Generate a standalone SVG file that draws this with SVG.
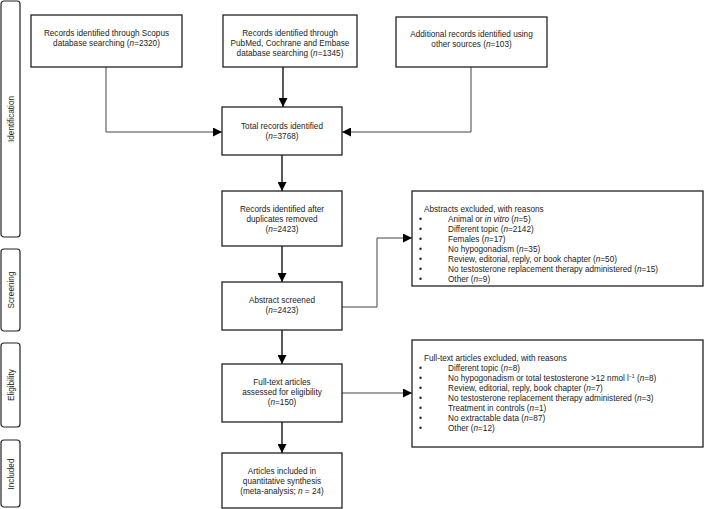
<svg xmlns="http://www.w3.org/2000/svg" width="704" height="509" viewBox="0 0 704 509">
<defs>
<marker id="ah" viewBox="0 0 10 10" refX="10" refY="5" markerWidth="9" markerHeight="9" markerUnits="userSpaceOnUse" orient="auto"><path d="M0,0 L10,5 L0,10 z" fill="#000"/></marker>
<style>
.box{fill:#fff;stroke:#222;stroke-width:1.3}
.side{fill:#fff;stroke:#222;stroke-width:1.2}
text{font-family:"Liberation Sans",Arial,sans-serif;font-size:8.2px;fill:#222}
.c{text-anchor:middle}
.conn{fill:none;stroke:#444;stroke-width:1}
.dark{stroke:#000;stroke-width:1.3}
</style>
</defs>
<rect width="704" height="509" fill="#fff"/>
<g id="side-identification"><rect class="side" x="1" y="1" width="19" height="236" rx="3"/><text class="c" transform="translate(13.5,119) rotate(-90)">Identification</text></g>
<g id="side-screening"><rect class="side" x="1" y="249" width="19" height="82" rx="3"/><text class="c" transform="translate(13.5,290) rotate(-90)">Screening</text></g>
<g id="side-eligibility"><rect class="side" x="1" y="343" width="19" height="84" rx="3"/><text class="c" transform="translate(13.5,385) rotate(-90)">Eligibility</text></g>
<g id="side-included"><rect class="side" x="1" y="440" width="19" height="67" rx="3"/><text class="c" transform="translate(13.5,474) rotate(-90)">Included</text></g>

<g id="connectors">
<path class="conn" d="M106,67 V132 H222" marker-end="url(#ah)"/>
<path class="conn dark" d="M283,67 V107" marker-end="url(#ah)"/>
<path class="conn" d="M471,67 V132 H342" marker-end="url(#ah)"/>
<path class="conn dark" d="M282,155 V191" marker-end="url(#ah)"/>
<path class="conn dark" d="M282,246 V282" marker-end="url(#ah)"/>
<path class="conn" d="M342,307 H377 V238 H412" marker-end="url(#ah)"/>
<path class="conn dark" d="M282,330 V364" marker-end="url(#ah)"/>
<path class="conn" d="M342,393 H412" marker-end="url(#ah)"/>
<path class="conn dark" d="M282,422 V453" marker-end="url(#ah)"/>
</g>

<g id="scopus"><rect class="box" x="31" y="15" width="151" height="52"/>
<text class="c" x="106.5" y="36">Records identified through Scopus</text>
<text class="c" x="106.5" y="46">database searching (<tspan font-style="italic">n</tspan>=2320)</text></g>

<g id="pubmed"><rect class="box" x="223" y="15" width="134" height="52"/>
<text class="c" x="290" y="36">Records identified through</text>
<text class="c" x="290" y="46">PubMed, Cochrane and Embase</text>
<text class="c" x="290" y="56">database searching (<tspan font-style="italic">n</tspan>=1345)</text></g>

<g id="additional"><rect class="box" x="396" y="17" width="151" height="50"/>
<text class="c" x="471.5" y="37">Additional records identified using</text>
<text class="c" x="471.5" y="47">other sources (<tspan font-style="italic">n</tspan>=103)</text></g>

<g id="total"><rect class="box" x="222" y="107" width="120" height="48"/>
<text class="c" x="282" y="129">Total records identified</text>
<text class="c" x="282" y="139">(<tspan font-style="italic">n</tspan>=3768)</text></g>

<g id="dedup"><rect class="box" x="222" y="191" width="120" height="55"/>
<text class="c" x="282" y="212">Records identified after</text>
<text class="c" x="282" y="222">duplicates removed</text>
<text class="c" x="282" y="232">(<tspan font-style="italic">n</tspan>=2423)</text></g>

<g id="screened"><rect class="box" x="222" y="282" width="120" height="48"/>
<text class="c" x="282" y="303">Abstract screened</text>
<text class="c" x="282" y="313">(<tspan font-style="italic">n</tspan>=2423)</text></g>

<g id="fulltext"><rect class="box" x="222" y="364" width="120" height="58"/>
<text class="c" x="282" y="385">Full-text articles</text>
<text class="c" x="282" y="395">assessed for eligibility</text>
<text class="c" x="282" y="405">(<tspan font-style="italic">n</tspan>=150)</text></g>

<g id="included"><rect class="box" x="222" y="453" width="120" height="55"/>
<text class="c" x="282" y="474">Articles included in</text>
<text class="c" x="282" y="484">quantitative synthesis</text>
<text class="c" x="282" y="494">(meta-analysis; <tspan font-style="italic">n</tspan> = 24)</text></g>

<g id="abstracts-excluded"><rect class="box" x="412" y="191" width="291" height="95"/>
<text x="424" y="212">Abstracts excluded, with reasons</text>
<text x="419" y="222">•</text><text x="448" y="222">Animal or <tspan font-style="italic">in vitro</tspan> (<tspan font-style="italic">n</tspan>=5)</text>
<text x="419" y="232">•</text><text x="448" y="232">Different topic (<tspan font-style="italic">n</tspan>=2142)</text>
<text x="419" y="242">•</text><text x="448" y="242">Females (<tspan font-style="italic">n</tspan>=17)</text>
<text x="419" y="252">•</text><text x="448" y="252">No hypogonadism (<tspan font-style="italic">n</tspan>=35)</text>
<text x="419" y="262">•</text><text x="448" y="262">Review, editorial, reply, or book chapter (<tspan font-style="italic">n</tspan>=50)</text>
<text x="419" y="272">•</text><text x="448" y="272">No testosterone replacement therapy administered (<tspan font-style="italic">n</tspan>=15)</text>
<text x="419" y="282">•</text><text x="448" y="282">Other (<tspan font-style="italic">n</tspan>=9)</text></g>

<g id="fulltext-excluded"><rect class="box" x="412" y="340" width="291" height="107"/>
<text x="424" y="361">Full-text articles excluded, with reasons</text>
<text x="419" y="371">•</text><text x="448" y="371">Different topic (<tspan font-style="italic">n</tspan>=8)</text>
<text x="419" y="381">•</text><text x="448" y="381">No hypogonadism or total testosterone &gt;12 nmol l<tspan font-size="5" dy="-3">−1</tspan><tspan dy="3"> (</tspan><tspan font-style="italic">n</tspan>=8)</text>
<text x="419" y="391">•</text><text x="448" y="391">Review, editorial, reply, book chapter (<tspan font-style="italic">n</tspan>=7)</text>
<text x="419" y="401">•</text><text x="448" y="401">No testosterone replacement therapy administered  (<tspan font-style="italic">n</tspan>=3)</text>
<text x="419" y="411">•</text><text x="448" y="411">Treatment in controls (<tspan font-style="italic">n</tspan>=1)</text>
<text x="419" y="421">•</text><text x="448" y="421">No extractable data (<tspan font-style="italic">n</tspan>=87)</text>
<text x="419" y="431">•</text><text x="448" y="431">Other (<tspan font-style="italic">n</tspan>=12)</text></g>
</svg>
